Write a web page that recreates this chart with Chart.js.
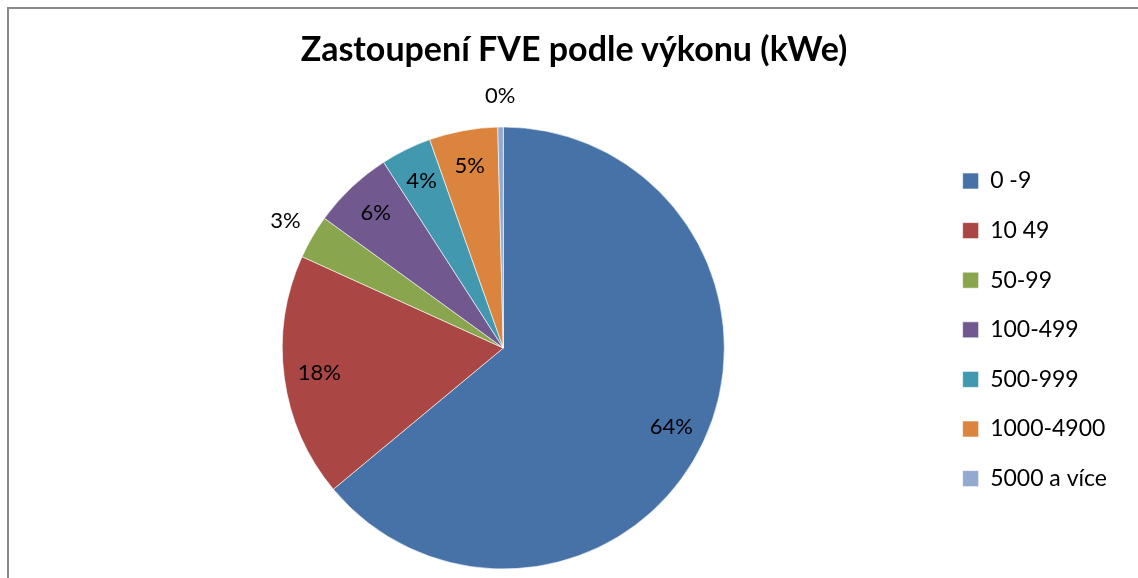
<!DOCTYPE html>
<html>
<head>
<meta charset="utf-8">
<script src="https://cdn.jsdelivr.net/npm/chart.js@4"></script>
<style>
  html, body { margin: 0; padding: 0; background: #fff; overflow: hidden; }
  #wrap { position: relative; width: 100vw; height: 100vh; overflow: hidden; }
  .edge { position: absolute; background: #8a8a8a; }
  #edgeLeft { left: 7px; top: 7px; width: 2px; height: 600px; }
  #edgeTop { left: 7px; top: 7px; right: 0; height: 2px; }
  #title { position: absolute; left: 0; width: 1148px; top: 28px; text-align: center;
           font: bold 34px/40.8px Lato; color: #000; }
  #chart { position: absolute; left: 0; top: 0; }
</style>
</head>
<body>
<div id="wrap">
  <div class="edge" id="edgeLeft"></div>
  <div class="edge" id="edgeTop"></div>
  <canvas id="chart" width="1138" height="578"></canvas>
  <div id="title"></div>
</div>
<script>
// chart data
const categories = ["0 -9", "10 49", "50-99", "100-499", "500-999", "1000-4900", "5000 a více"];
const shares = [63.9, 17.8, 3.2, 5.9, 3.7, 5.0, 0.4];
const colors = ["#4672A8", "#AA4643", "#89A54E", "#71588F", "#4198AF", "#DB843D", "#93A9CF"];
const chartTitle = "Zastoupení FVE podle výkonu (kWe)";

document.getElementById("title").textContent = chartTitle;

// percent labels, inside the slice unless the slice is too thin
const sliceLabels = {
  id: "sliceLabels",
  afterDatasetsDraw(chart) {
    const ctx = chart.ctx;
    const meta = chart.getDatasetMeta(0);
    ctx.save();
    ctx.font = "22px Lato";
    ctx.fillStyle = "#000";
    ctx.textAlign = "center";
    ctx.textBaseline = "middle";
    meta.data.forEach((arc, i) => {
      const p = arc.getProps(["x", "y", "startAngle", "endAngle", "outerRadius"], true);
      const mid = (p.startAngle + p.endAngle) / 2;
      const r = shares[i] < 3.5 ? p.outerRadius * 1.14 : p.outerRadius * 0.84;
      ctx.fillText(Math.round(shares[i]) + "%", p.x + Math.cos(mid) * r, p.y + Math.sin(mid) * r);
    });
    ctx.restore();
  }
};

const ctx = document.getElementById("chart").getContext("2d");
window.chartInstance = new Chart(ctx, {
  type: "pie",
  data: {
    labels: categories,
    datasets: [{
      data: shares,
      backgroundColor: colors,
      borderColor: "rgba(255,255,255,0.6)",
      borderWidth: 1
    }]
  },
  options: {
    responsive: false,
    animation: false,
    radius: 221,
    layout: { padding: { left: 70.6, right: 21, top: 127, bottom: 9 } },
    plugins: {
      title: { display: false },
      legend: {
        position: "right",
        align: "start",
        fullSize: false,
        title: { display: true, text: "", font: { size: 1, lineHeight: 1 }, padding: { top: 14.9, bottom: 0 } },
        labels: {
          color: "#000",
          font: { family: "Lato", size: 23 },
          boxWidth: 16,
          boxHeight: 16,
          padding: 26.6
        }
      },
      tooltip: { enabled: false }
    }
  },
  plugins: [sliceLabels]
});
</script>
</body>
</html>
